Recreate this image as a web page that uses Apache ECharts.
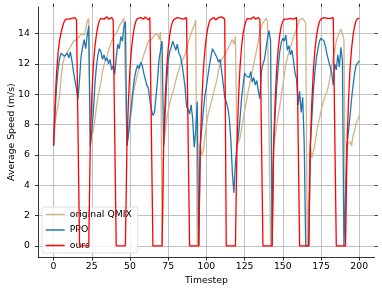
<!DOCTYPE html>
<html>
<head>
<meta charset="utf-8">
<script src="https://cdn.jsdelivr.net/npm/echarts@6/dist/echarts.min.js"></script>
<style>
html,body{margin:0;padding:0;background:#fff;}
#chart{width:382px;height:293px;}
</style>
</head>
<body>
<div id="chart"></div>
<script>
// Tick labels
const xTicks = [0, 25, 50, 75, 100, 125, 150, 175, 200];
const yTicks = [0, 2, 4, 6, 8, 10, 12, 14];
const seriesNames = ['original QMIX', 'PPO', 'ours'];

// Timesteps 0..200
const timesteps = Array.from({length: 201}, (_, i) => i);

// original QMIX
const qmix = [
  6.6, 8.1, 8.8, 9.3, 10.0, 11.2, 12.0, 12.4, 12.6, 12.8, 12.9, 13.1, 13.3, 13.5, 13.4, 13.6, 13.7, 13.8, 14.0, 13.9, 13.9, 14.3, 14.8, 15.0,
  6.6, 7.2, 7.6, 8.3, 9.1, 9.8, 10.3, 10.8, 11.5, 11.9, 12.3, 12.5, 12.9, 13.2, 13.5, 13.7, 13.9, 13.8, 14.2, 14.5, 14.6, 14.8, 15.0, 14.9,
  6.6, 7.5, 8.2, 8.9, 9.9, 10.5, 10.9, 11.4, 11.7, 11.8, 12.2, 12.6, 12.9, 13.0, 13.5, 13.4, 13.6, 13.7, 13.9, 13.8, 14.0, 13.6, 14.1, 0,
  6.6, 7.5, 8.3, 8.9, 9.4, 9.8, 10.1, 10.5, 10.9, 11.3, 11.6, 12.0, 12.2, 12.4, 12.6, 13.0, 13.4, 13.7, 14.0, 14.3, 14.5, 14.9, 0, 0,
  6.6, 6.0, 6.3, 7.2, 8.0, 8.6, 9.0, 9.4, 9.8, 10.2, 10.6, 11.0, 11.6, 12.0, 12.3, 12.4, 12.6, 12.8, 13.0, 13.2, 13.4, 13.6, 13.3, 13.8,
  6.6, 6.7, 7.1, 7.7, 8.3, 8.9, 9.4, 10.0, 10.5, 11.0, 11.5, 12.0, 12.5, 13.0, 13.5, 14.1, 14.5, 14.7, 14.8, 15.0, 14.8, 14.9, 0, 0,
  6.6, 7.3, 8.0, 8.6, 9.2, 9.9, 10.6, 11.3, 12.0, 12.4, 12.8, 13.1, 13.4, 13.8, 14.0, 14.3, 14.6, 14.9, 14.8, 15.0, 14.9, 14.7, 0, 0,
  6.6, 5.8, 6.2, 6.7, 7.4, 8.0, 8.4, 8.9, 9.3, 9.7, 9.6, 10.2, 10.6, 11.2, 11.9, 12.4, 12.9, 13.5, 13.8, 14.1, 14.3, 14.0, 13.6, 0,
  6.6, 6.5, 6.9, 6.6, 7.3, 7.6, 8.1, 8.3, 8.6
];

// PPO
const ppo = [
  6.6, 8.8, 10.6, 11.7, 12.4, 12.7, 12.8, 12.5, 12.6, 12.7, 12.4, 12.8, 12.2, 11.5, 10.9, 10.3, 9.7, 11.0, 12.5, 13.1, 13.6, 13.0, 13.9, 14.5,
  6.6, 7.6, 8.8, 10.6, 11.8, 12.6, 13.0, 12.8, 12.3, 12.6, 12.2, 12.4, 12.0, 12.3, 11.6, 11.9, 11.3, 12.4, 13.3, 13.0, 13.8, 13.5, 14.4, 14.8,
  6.6, 7.3, 8.4, 9.4, 10.3, 11.1, 11.6, 11.9, 11.7, 12.1, 11.9, 11.4, 11.0, 10.6, 10.4, 9.6, 9.0, 8.6, 8.8, 9.8, 10.9, 12.3, 12.9, 13.5,
  6.6, 8.7, 10.8, 12.2, 12.8, 13.1, 13.5, 13.2, 12.9, 13.3, 12.7, 12.5, 12.0, 11.3, 10.5, 9.2, 9.0, 8.7, 9.3, 8.4, 6.5, 7.6, 9.5, 0,
  6.6, 7.8, 8.9, 9.9, 10.5, 11.2, 11.9, 12.5, 13.0, 12.8, 12.9, 12.4, 12.1, 12.3, 11.5, 10.7, 9.8, 9.5, 9.1, 8.4, 7.0, 4.8, 3.5, 5.5,
  6.6, 7.3, 8.4, 9.7, 10.6, 11.4, 11.2, 11.3, 11.1, 11.5, 10.8, 11.1, 10.6, 10.9, 10.2, 9.7, 11.5, 12.0, 12.3, 13.0, 13.7, 14.2, 13.5, 0,
  6.6, 8.7, 10.5, 11.8, 12.8, 13.4, 13.7, 13.5, 13.9, 12.9, 13.2, 12.6, 12.9, 12.2, 11.4, 11.0, 9.3, 10.2, 8.8, 9.8, 6.8, 0, 0, 0,
  6.6, 8.4, 10.2, 11.5, 12.4, 13.0, 13.5, 13.7, 13.8, 13.5, 13.1, 12.6, 12.2, 11.8, 11.4, 10.6, 12.0, 11.6, 12.6, 11.8, 13.1, 12.2, 0, 0,
  6.6, 7.6, 8.6, 9.7, 10.6, 11.4, 11.9, 12.0, 12.2
];

// ours
const ours = [
  6.6, 9.5, 11.5, 12.8, 13.6, 14.1, 14.5, 14.8, 14.95, 15.0, 14.95, 15.05, 15.0, 14.95, 15.05, 14.9, 15.0, 0, 0, 0, 0, 0, 0, 0,
  6.6, 9.8, 11.9, 13.1, 13.9, 14.5, 14.85, 15.0, 15.05, 14.95, 15.0, 15.1, 14.95, 15.0, 15.05, 14.9, 15.0, 0, 0, 0, 0, 0, 0, 0,
  6.6, 9.6, 11.7, 13.0, 13.9, 14.5, 14.85, 15.0, 14.95, 15.05, 15.0, 14.95, 15.1, 15.0, 14.9, 15.05, 15.0, 0, 0, 0, 0, 0, 0, 0,
  6.6, 9.6, 11.7, 13.0, 13.9, 14.5, 14.8, 14.95, 15.0, 15.05, 14.95, 15.0, 15.1, 14.95, 15.0, 15.05, 15.0, 0, 0, 0, 0, 0, 0, 0,
  6.6, 9.5, 11.6, 12.9, 13.8, 14.4, 14.8, 14.95, 15.0, 15.05, 14.9, 15.0, 15.05, 14.95, 15.1, 15.0, 14.95, 0, 0, 0, 0, 0, 0, 0,
  6.6, 9.7, 11.8, 13.1, 14.0, 14.5, 14.85, 15.0, 15.05, 14.95, 15.0, 15.1, 14.95, 15.0, 15.05, 14.9, 15.0, 0, 0, 0, 0, 0, 0, 0,
  6.6, 9.6, 11.7, 13.0, 13.9, 14.5, 14.8, 14.95, 15.0, 14.95, 15.05, 15.0, 15.1, 14.95, 15.0, 15.05, 14.95, 0, 0, 0, 0, 0, 0, 0,
  6.6, 9.5, 11.6, 12.9, 13.8, 14.4, 14.8, 14.95, 15.0, 15.05, 14.95, 15.0, 15.1, 15.0, 14.95, 15.05, 15.0, 0, 0, 0, 0, 0, 0, 0,
  6.6, 9.6, 11.7, 13.0, 13.9, 14.5, 14.85, 15.0, 15.0
];

const FONT = 'DejaVu Sans';
const pair = arr => timesteps.map((t, i) => [t, arr[i]]);

const chart = echarts.init(document.getElementById('chart'), null, {renderer: 'canvas'});

const tickStyle = {color: '#000', width: 0.8};

chart.setOption({
  animation: false,
  backgroundColor: '#fff',
  textStyle: {fontFamily: FONT},
  grid: {left: 38.3, right: 7.5, top: 7, bottom: 35.7, containLabel: false, outerBoundsMode: 'none'},
  legend: {
    orient: 'vertical',
    left: 42, top: 207,
    icon: 'rect',
    itemWidth: 19, itemHeight: 1.5, itemGap: 6.5,
    padding: [3, 6, 3, 3.7],
    backgroundColor: 'rgba(255,255,255,0.8)',
    borderColor: 'rgba(204,204,204,0.8)', borderWidth: 0.8, borderRadius: 2.5,
    textStyle: {fontSize: 9.3, color: '#000', fontFamily: FONT},
    data: seriesNames
  },
  xAxis: [{
    type: 'value', min: -10, max: 210, position: 'bottom',
    name: 'Timestep', nameLocation: 'middle', nameGap: 19,
    nameTextStyle: {fontSize: 9.3, color: '#000', fontFamily: FONT},
    axisLine: {show: true, onZero: false, lineStyle: tickStyle},
    axisTick: {show: true, customValues: xTicks, length: 3.3, lineStyle: tickStyle},
    axisLabel: {show: true, customValues: xTicks, fontSize: 9.3, color: '#000', margin: 5, fontFamily: FONT},
    splitLine: {show: true, lineStyle: {color: '#b0b0b0', width: 0.8}}
  }, {
    type: 'value', min: -10, max: 210, position: 'top',
    axisLine: {show: false, onZero: false},
    axisTick: {show: true, customValues: xTicks, length: 3.3, lineStyle: tickStyle},
    axisLabel: {show: false},
    splitLine: {show: false}
  }],
  yAxis: [{
    type: 'value', min: -0.75, max: 15.75, position: 'left',
    name: 'Average Speed (m/s)', nameLocation: 'middle', nameGap: 22, nameMoveOverlap: false,
    nameTextStyle: {fontSize: 9.3, color: '#000', fontFamily: FONT},
    axisLine: {show: true, onZero: false, lineStyle: tickStyle},
    axisTick: {show: true, customValues: yTicks, length: 3.3, lineStyle: tickStyle},
    axisLabel: {show: true, customValues: yTicks, fontSize: 9.3, color: '#000', margin: 8.5, fontFamily: FONT},
    splitLine: {show: true, lineStyle: {color: '#b0b0b0', width: 0.8}}
  }, {
    type: 'value', min: -0.75, max: 15.75, position: 'right',
    axisLine: {show: false, onZero: false},
    axisTick: {show: true, customValues: yTicks, length: 3.3, lineStyle: tickStyle},
    axisLabel: {show: false},
    splitLine: {show: false}
  }],
  series: [
    {name: seriesNames[0], type: 'line', data: pair(qmix), symbol: 'none', showSymbol: false,
     lineStyle: {color: '#d2b48c', width: 1.3}, itemStyle: {color: '#d2b48c'}, z: 2},
    {name: seriesNames[1], type: 'line', data: pair(ppo), symbol: 'none', showSymbol: false,
     lineStyle: {color: '#1f77b4', width: 1.3}, itemStyle: {color: '#1f77b4'}, z: 3},
    {name: seriesNames[2], type: 'line', data: pair(ours), symbol: 'none', showSymbol: false,
     lineStyle: {color: '#ff0000', width: 1.3}, itemStyle: {color: '#ff0000'}, z: 4}
  ]
});
</script>
</body>
</html>
